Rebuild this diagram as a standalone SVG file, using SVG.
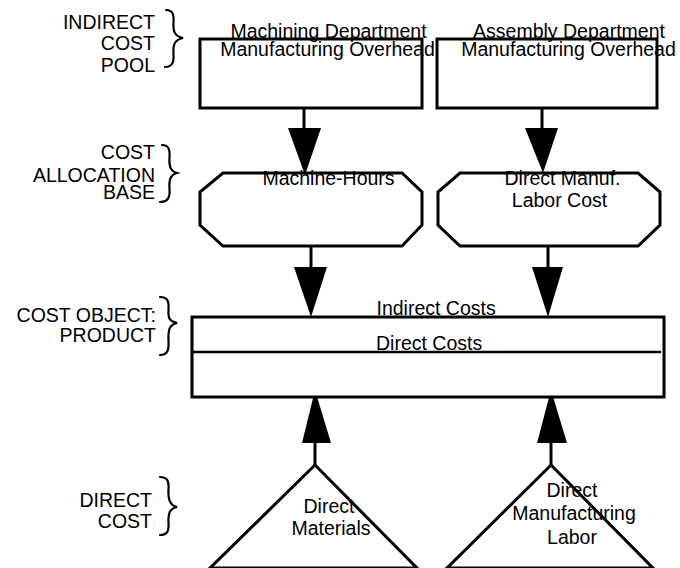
<svg xmlns="http://www.w3.org/2000/svg" width="680" height="568" viewBox="0 0 680 568">
<defs>
<style>
text{font-family:"Liberation Sans",Arial,sans-serif;font-size:19.5px;fill:#000}
.r{text-anchor:end}
.m{text-anchor:middle}
.shape{fill:#fff;stroke:#000;stroke-width:3}
.thin{fill:none;stroke:#000;stroke-width:2.5}
.brace{fill:none;stroke:#000;stroke-width:2.2;stroke-linecap:round}
.stem{stroke:#000;stroke-width:3}
.head{fill:#000;stroke:none}
</style>
</defs>
<rect width="680" height="568" fill="#fff"/>
<g id="labels">
<text class="r" x="155" y="29">INDIRECT</text>
<text class="r" x="155" y="50">COST</text>
<text class="r" x="155" y="72">POOL</text>
<path class="brace" d="M166,10 C173,10 174,15 173.5,22 C173,31 174,36 183,38 C174,40 173,45 173.5,54 C174,61 173,67 165,67"/>
<text class="r" x="155" y="159">COST</text>
<text class="r" x="155" y="182">ALLOCATION</text>
<text class="r" x="155" y="199">BASE</text>
<path class="brace" d="M162,145 C169,145 170,150 169.5,157 C169,166 170,171 177,173 C170,175 169,180 169.5,189 C170,196 169,202 160,202"/>
<text class="r" x="156" y="322">COST OBJECT:</text>
<text class="r" x="156" y="342">PRODUCT</text>
<path class="brace" d="M160,297 C168,297 169,302 168.5,309 C168,318 169,321 177,323 C169,325 168,330 168.5,341 C169,349 168,355 160,355"/>
<text class="r" x="152" y="507">DIRECT</text>
<text class="r" x="152" y="528">COST</text>
<path class="brace" d="M160,477 C168,477 169,482 168.5,489 C168,498 169,505 177,507 C169,509 168,514 168.5,523 C169,530 168,535 160,535"/>
</g>
<g id="connectors">
<line class="stem" x1="304" y1="108" x2="304" y2="130"/>
<polygon class="head" points="288,128 321,128 305,175"/>
<line class="stem" x1="542" y1="108" x2="542" y2="130"/>
<polygon class="head" points="525,128 558,128 543,173"/>
<line class="stem" x1="311" y1="246" x2="311" y2="269"/>
<polygon class="head" points="294,267 327,267 311,317"/>
<line class="stem" x1="548" y1="246" x2="548" y2="269"/>
<polygon class="head" points="532,267 563,267 548,317"/>
<line class="stem" x1="315" y1="441" x2="315" y2="465"/>
<polygon class="head" points="302,443 331,443 315,390"/>
<line class="stem" x1="551" y1="441" x2="551" y2="465"/>
<polygon class="head" points="537,443 567,443 551,390"/>
</g>
<g id="machining-pool">
<rect class="shape" x="200" y="39" width="222" height="69"/>
<text class="m" x="328.5" y="37.5">Machining Department</text>
<text class="m" x="327.5" y="55.5">Manufacturing Overhead</text>
</g>
<g id="assembly-pool">
<rect class="shape" x="437" y="39" width="220" height="69"/>
<text class="m" x="569" y="37.5">Assembly Department</text>
<text class="m" x="568.5" y="55.5">Manufacturing Overhead</text>
</g>
<g id="machine-hours">
<polygon class="shape" points="223,173 402,173 422,192 422,225 402,246 223,246 200,225 200,192"/>
<text class="m" x="328.5" y="184.5">Machine-Hours</text>
</g>
<g id="labor-cost">
<polygon class="shape" points="460,173 638,173 660,192 660,225 638,246 460,246 438,225 438,192"/>
<text class="m" x="562.5" y="184.5">Direct Manuf.</text>
<text class="m" x="559.5" y="207">Labor Cost</text>
</g>
<g id="product">
<rect class="shape" x="192" y="317" width="472" height="80" stroke-width="2.5"/>
<line class="thin" x1="192" y1="352" x2="661" y2="352"/>
<text x="376.5" y="315">Indirect Costs</text>
<text x="376" y="350">Direct Costs</text>
</g>
<g id="direct-materials">
<polygon class="shape" points="315,465 417,568 210,568" stroke-width="2.5"/>
<text class="m" x="329" y="513">Direct</text>
<text class="m" x="331" y="535">Materials</text>
</g>
<g id="direct-labor">
<polygon class="shape" points="551,465 653,568 447,568" stroke-width="2.5"/>
<text class="m" x="572" y="497">Direct</text>
<text class="m" x="574" y="520">Manufacturing</text>
<text class="m" x="572" y="544">Labor</text>
</g>
</svg>
